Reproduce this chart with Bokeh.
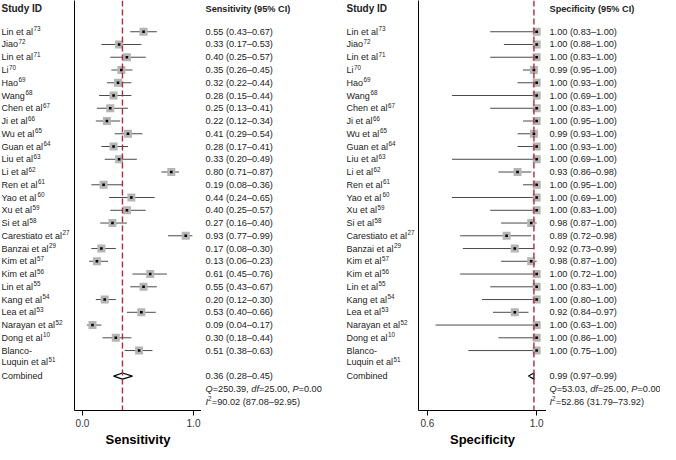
from bokeh.plotting import figure
from bokeh.layouts import row
from bokeh.models import Range1d, LinearAxis, FixedTicker, NumeralTickFormatter, Span
from bokeh.core.properties import value
from bokeh.embed import file_html
from bokeh.resources import INLINE

# ---------------- data ----------------
studies = ["Lin et al", "Jiao", "Lin et al", "Li", "Hao", "Wang", "Chen et al", "Ji et al",
           "Wu et al", "Guan et al", "Liu et al", "Li et al", "Ren et al", "Yao et al", "Xu et al",
           "Si et al", "Carestiato et al", "Banzai et al", "Kim et al", "Kim et al", "Lin et al",
           "Kang et al", "Lea et al", "Narayan et al", "Dong et al", "Blanco-Luquin et al"]
refs = ["73", "72", "71", "70", "69", "68", "67", "66", "65", "64", "63", "62", "61", "60", "59",
        "58", "27", "29", "57", "56", "55", "54", "53", "52", "10", "51"]

sens = [0.55, 0.33, 0.40, 0.35, 0.32, 0.28, 0.25, 0.22, 0.41, 0.28, 0.33, 0.80, 0.19, 0.44, 0.40,
        0.27, 0.93, 0.17, 0.13, 0.61, 0.55, 0.20, 0.53, 0.09, 0.30, 0.51]
sens_lo = [0.43, 0.17, 0.25, 0.26, 0.22, 0.15, 0.13, 0.12, 0.29, 0.17, 0.20, 0.71, 0.08, 0.24, 0.25,
           0.16, 0.77, 0.08, 0.06, 0.45, 0.43, 0.12, 0.40, 0.04, 0.18, 0.38]
sens_hi = [0.67, 0.53, 0.57, 0.45, 0.44, 0.44, 0.41, 0.34, 0.54, 0.41, 0.49, 0.87, 0.36, 0.65, 0.57,
           0.40, 0.99, 0.30, 0.23, 0.76, 0.67, 0.30, 0.66, 0.17, 0.44, 0.63]
sens_pooled = [0.36, 0.28, 0.45]
sens_stats = ["250.39", "25.00", "0.00", "90.02 (87.08–92.95)"]

spec = [1.00, 1.00, 1.00, 0.99, 1.00, 1.00, 1.00, 1.00, 0.99, 1.00, 1.00, 0.93, 1.00, 1.00, 1.00,
        0.98, 0.89, 0.92, 0.98, 1.00, 1.00, 1.00, 0.92, 1.00, 1.00, 1.00]
spec_lo = [0.83, 0.88, 0.83, 0.95, 0.93, 0.69, 0.83, 0.95, 0.93, 0.93, 0.69, 0.86, 0.95, 0.69, 0.83,
           0.87, 0.72, 0.73, 0.87, 0.72, 0.83, 0.80, 0.84, 0.63, 0.86, 0.75]
spec_hi = [1.00, 1.00, 1.00, 1.00, 1.00, 1.00, 1.00, 1.00, 1.00, 1.00, 1.00, 0.98, 1.00, 1.00, 1.00,
           1.00, 0.98, 0.99, 1.00, 1.00, 1.00, 1.00, 0.97, 1.00, 1.00, 1.00]
spec_pooled = [0.99, 0.97, 0.99]
spec_stats = ["53.03", "25.00", "0.00", "52.86 (31.79–73.92)"]

sens_ticks = [0.0, 1.0]
spec_ticks = [0.6, 1.0]

# ---------------- styling ----------------
FONT = "Liberation Sans"
FS = 9.2       # value columns
FL = 9.0       # study labels
FSUP = 6.3     # superscripts
TXT = "#222222"
FRAME_H = 410
yr = Range1d(start=29.7, end=-2.45)

n = len(studies)
rows = list(range(n))
ROW_COMB = n + 1
ROW_Q = n + 2
ROW_I = n + 3
ROW_HEAD = -1.8

# Arial / Liberation Sans advance widths (em)
ADV = {c: 0.556 for c in "0123456789abdeghnopqu"}
ADV.update({" ": 0.278, ".": 0.278, ",": 0.278, "-": 0.333, "=": 0.584, "(": 0.333, ")": 0.333,
            "–": 0.556, "²": 0.333, "f": 0.278, "i": 0.222, "j": 0.222, "l": 0.222, "t": 0.278,
            "r": 0.333, "c": 0.5, "k": 0.5, "s": 0.5, "v": 0.5, "x": 0.5, "y": 0.5, "z": 0.5,
            "m": 0.833, "w": 0.722, "A": 0.667, "B": 0.667, "C": 0.722, "D": 0.722, "E": 0.667,
            "G": 0.778, "H": 0.722, "I": 0.278, "J": 0.5, "K": 0.667, "L": 0.556, "N": 0.722,
            "P": 0.667, "Q": 0.778, "R": 0.722, "S": 0.667, "W": 0.944, "X": 0.667, "Y": 0.667})


def txt_width(s, size):
    return sum(ADV.get(c, 0.556) for c in s) * size


def base_fig(w, xr):
    p = figure(x_range=xr, y_range=yr, frame_width=w, frame_height=FRAME_H,
               output_backend="svg", toolbar_location=None, min_border=0,
               x_axis_location=None, y_axis_location=None)
    p.grid.visible = False
    p.outline_line_color = None
    return p


def put_text(p, x, y, t, style="normal", size=FS, color=TXT, yoff=0):
    p.text(x=x, y=y, text=t, text_font=value(FONT), text_font_size=value(f"{size}px"),
           text_font_style=style, text_baseline="middle", text_align="left", text_color=color,
           y_offset=yoff)


def label_fig(w, x0):
    p = base_fig(w, Range1d(0, w))
    put_text(p, [x0], [ROW_HEAD], ["Study ID"], style="bold", size=10)
    xs, ys, ts, sx, sy, st = [], [], [], [], [], []
    for i, (s, r) in enumerate(zip(studies, refs)):
        if "-" in s and len(s) > 15:
            a, b = s.split("-", 1)
            xs += [x0, x0]
            ys += [i, i + 0.93]
            ts += [a + "-", b]
            last, ly = b, i + 0.93
        else:
            xs.append(x0)
            ys.append(i)
            ts.append(s)
            last, ly = s, i
        sx.append(x0 + txt_width(last, FL) + 0.4)
        sy.append(ly)
        st.append(r)
    xs.append(x0)
    ys.append(ROW_COMB)
    ts.append("Combined")
    put_text(p, xs, ys, ts, size=FL)
    put_text(p, sx, sy, st, size=FSUP, yoff=-3)
    return p


def frame_axis():
    return LinearAxis(ticker=FixedTicker(ticks=[]), major_tick_out=0, major_tick_in=0,
                      minor_tick_out=0, minor_tick_in=0, major_label_text_font_size="0px",
                      major_label_standoff=0, axis_line_color="black", axis_line_width=1)


def plot_fig(w, xr, est, lo, hi, pooled, ticks, title):
    p = base_fig(w, xr)
    ax = LinearAxis(ticker=FixedTicker(ticks=ticks), formatter=NumeralTickFormatter(format="0.0"),
                    axis_label=title, axis_label_text_font=FONT, axis_label_text_font_size="13px",
                    axis_label_text_font_style="bold", axis_label_text_color="black",
                    axis_label_standoff=2, major_label_text_font=FONT,
                    major_label_text_font_size="10px", major_label_text_color="#333333",
                    major_label_standoff=3, major_tick_out=5, major_tick_in=0,
                    minor_tick_out=0, minor_tick_in=0, axis_line_color="black")
    p.add_layout(ax, "below")
    p.add_layout(frame_axis(), "left")
    p.add_layout(frame_axis(), "right")
    p.add_layout(Span(location=pooled[0], dimension="height", line_color="#b3283f",
                      line_dash="6 3", line_width=1.4))
    p.segment(x0=lo, x1=hi, y0=rows, y1=rows, line_color="#4a4a4a", line_width=1)
    p.scatter(x=est, y=rows, marker="square", size=8, fill_color="#b5b5b5", line_color=None)
    p.scatter(x=est, y=rows, marker="square", size=2.6, fill_color="black", line_color=None)
    h = 0.24
    p.patch(x=[pooled[1], pooled[0], pooled[2], pooled[0]],
            y=[ROW_COMB, ROW_COMB - h, ROW_COMB, ROW_COMB + h],
            fill_color="white", line_color="black", line_width=1.2)
    return p


def value_fig(w, x0, head, est, lo, hi, pooled, stats):
    p = base_fig(w, Range1d(0, w))
    put_text(p, [x0], [ROW_HEAD], [head], style="bold")
    ts = [f"{e:.2f} ({a:.2f}–{b:.2f})" for e, a, b in zip(est, lo, hi)]
    put_text(p, [x0] * n, rows, ts)
    put_text(p, [x0], [ROW_COMB], [f"{pooled[0]:.2f} ({pooled[1]:.2f}–{pooled[2]:.2f})"])
    pieces = [("Q", "italic"), (f"={stats[0]}, ", "normal"), ("df", "italic"),
              (f"={stats[1]}, ", "normal"), ("P", "italic"), (f"={stats[2]}", "normal")]
    x = x0
    for t, s in pieces:
        put_text(p, [x], [ROW_Q], [t], style=s)
        x += txt_width(t, FS)
    put_text(p, [x0], [ROW_I], ["I"], style="italic")
    x = x0 + txt_width("I", FS)
    put_text(p, [x], [ROW_I], ["2"], size=FSUP, yoff=-3)
    x += txt_width("2", FSUP) + 0.3
    put_text(p, [x], [ROW_I], [f"={stats[3]}"])
    return p


f1 = label_fig(74, 1)
f2 = plot_fig(127, Range1d(-0.072, 1.072), sens, sens_lo, sens_hi, sens_pooled, sens_ticks, "Sensitivity")
f3 = value_fig(137, 4, "Sensitivity (95% CI)", sens, sens_lo, sens_hi, sens_pooled, sens_stats)
f4 = label_fig(80, 8)
f5 = plot_fig(128, Range1d(0.5676, 1.036), spec, spec_lo, spec_hi, spec_pooled, spec_ticks, "Specificity")
f6 = value_fig(114, 3, "Specificity (95% CI)", spec, spec_lo, spec_hi, spec_pooled, spec_stats)

layout = row(f1, f2, f3, f4, f5, f6, spacing=0)
open("out.html", "w").write(file_html(layout, INLINE))
